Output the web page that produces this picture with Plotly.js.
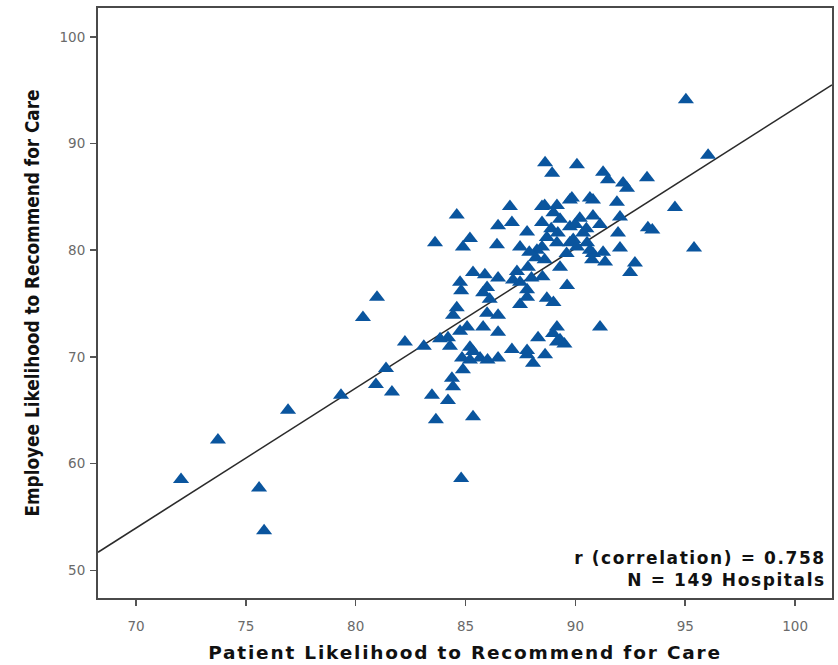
<!DOCTYPE html>
<html>
<head>
<meta charset="utf-8">
<script src="https://cdn.plot.ly/plotly-3.0.1.min.js"></script>
<style>
html,body{margin:0;padding:0;background:#fff;}
#chart{width:838px;height:665px;}
#chart .xtitle{letter-spacing:1.8px;}
#chart .annotation-text{letter-spacing:1.6px;}
</style>
</head>
<body>
<div id="chart"></div>
<script>
// Patient likelihood to recommend (x) for each hospital
const patientScore = [
  72.05, 73.73, 75.6, 75.83, 76.92, 79.33, 80.33, 80.97, 80.92, 81.38,
  81.65, 82.24, 83.1, 83.47, 83.61, 83.65, 84.2, 85.34, 84.43, 84.38,
  84.88, 84.84, 85.2, 85.66, 86.0, 86.48, 87.11, 87.8, 88.07, 88.62,
  88.3, 88.98, 89.16, 84.2, 84.6, 84.43, 85.07, 85.8, 86.48, 85.98,
  86.48, 87.48, 87.8, 88.7, 85.8, 84.8, 84.6, 84.88, 85.2, 86.43,
  86.48, 87.11, 87.02, 87.48, 87.8, 88.62, 88.94, 88.6, 84.75, 85.34,
  85.88, 86.48, 85.98, 87.34, 87.84, 87.48, 88.25, 88.7, 88.6, 90.07,
  91.26, 91.48, 92.17, 92.35, 93.26, 94.53, 93.3, 93.5, 92.03, 92.71,
  92.49, 91.89, 92.03, 91.94, 91.12, 91.26, 90.76, 91.35, 89.62, 90.8,
  89.75, 89.16, 90.35, 89.75, 90.53, 95.03, 96.04, 95.4, 91.12, 89.0,
  89.16, 89.5, 84.8, 88.48, 89.84, 90.66, 88.9, 89.2, 89.75, 90.07,
  90.8, 88.48, 89.16, 89.3, 88.5, 87.16, 87.8, 84.75, 84.29, 83.84,
  85.34, 85.2, 87.8, 89.3, 88.48, 89.3, 90.2, 90.8, 90.0, 90.66,
  89.6, 86.1, 88.0, 89.0, 90.5, 89.9, 88.2, 87.9
];
// Employee likelihood to recommend (y) for each hospital
const employeeScore = [
  58.5, 62.2, 57.7, 53.7, 65.0, 66.4, 73.7, 75.6, 67.4, 68.9,
  66.7, 71.4, 71.0, 66.4, 80.7, 64.1, 65.9, 64.4, 67.2, 68.0,
  68.8, 69.9, 70.9, 69.9, 69.7, 69.9, 70.7, 70.2, 69.4, 70.2,
  71.8, 72.2, 71.4, 71.8, 74.6, 73.9, 72.8, 72.8, 72.3, 74.1,
  73.9, 74.9, 75.6, 75.5, 76.0, 76.2, 83.3, 80.3, 81.1, 80.5,
  82.3, 82.6, 84.1, 80.3, 81.7, 88.2, 87.2, 84.2, 77.0, 77.9,
  77.7, 77.4, 76.5, 78.0, 78.4, 77.0, 80.0, 81.2, 79.1, 88.0,
  87.3, 86.6, 86.3, 85.8, 86.8, 84.0, 82.1, 81.9, 80.2, 78.8,
  77.9, 84.5, 83.1, 81.6, 82.4, 79.8, 79.1, 78.9, 76.7, 84.7,
  84.7, 84.2, 81.6, 80.7, 80.7, 94.1, 88.9, 80.2, 72.8, 75.1,
  72.8, 71.2, 58.6, 84.1, 84.9, 84.9, 82.0, 81.6, 82.2, 80.3,
  79.7, 80.3, 80.7, 78.4, 77.5, 77.2, 76.3, 72.4, 71.0, 71.7,
  70.5, 69.7, 70.6, 71.6, 82.6, 82.9, 83.0, 83.2, 82.4, 80.0,
  79.7, 75.4, 77.4, 83.5, 82.0, 81.0, 79.3, 79.8
];
// Fitted regression line end points
const fitX = [68.27, 101.68];
const fitY = [51.69, 95.5];
const xTicks = [70, 75, 80, 85, 90, 95, 100];
const yTicks = [50, 60, 70, 80, 90, 100];
const statsText = ["r (correlation) = 0.758", "N = 149 Hospitals"];

const traces = [
  {
    x: fitX, y: fitY, type: 'scatter', mode: 'lines',
    line: {color: '#2b2b2b', width: 1.6}, hoverinfo: 'skip', showlegend: false
  },
  {
    x: patientScore, y: employeeScore, type: 'scatter', mode: 'markers',
    marker: {symbol: 'triangle-up', size: 14, color: '#0a559e', line: {width: 0}},
    showlegend: false
  }
];

const axisCommon = {
  showgrid: false, zeroline: false,
  showline: true, linecolor: '#4a4a4a', linewidth: 2, mirror: true,
  ticks: 'outside', ticklen: 6, tickwidth: 1.5, tickcolor: '#555',
  tickfont: {family: 'DejaVu Sans, Verdana, sans-serif', size: 13.5, color: '#6a6a6a'}
};

const layout = {
  width: 838, height: 665,
  margin: {l: 98, r: 6, t: 8, b: 67},
  paper_bgcolor: '#ffffff', plot_bgcolor: '#ffffff',
  xaxis: Object.assign({}, axisCommon, {
    range: [68.27, 101.68], tickvals: xTicks, ticktext: xTicks.map(String),
    ticklabelstandoff: 9,
    title: {text: 'Patient Likelihood to Recommend for Care', standoff: 13,
      font: {family: 'DejaVu Sans, Verdana, sans-serif', size: 18.5, color: '#111', weight: 'bold'}}
  }),
  yaxis: Object.assign({}, axisCommon, {
    range: [47.4, 102.7], tickvals: yTicks, ticktext: yTicks.map(String),
    ticklabelstandoff: 2,
    title: {text: 'Employee Likelihood to Recommend for Care', standoff: 15,
      font: {family: 'DejaVu Sans Condensed, Liberation Sans Narrow, sans-serif', size: 18.8, color: '#111', weight: 'bold'}}
  }),
  annotations: [{
    xref: 'paper', yref: 'paper', x: 0.994, y: 0.049,
    xanchor: 'right', yanchor: 'middle', align: 'right', showarrow: false,
    text: statsText.map(s => '<b>' + s + '</b>').join('<br>'),
    font: {family: 'DejaVu Sans, Verdana, sans-serif', size: 17, color: '#111'}
  }]
};

Plotly.newPlot('chart', traces, layout, {displayModeBar: false, staticPlot: true});
</script>
</body>
</html>
